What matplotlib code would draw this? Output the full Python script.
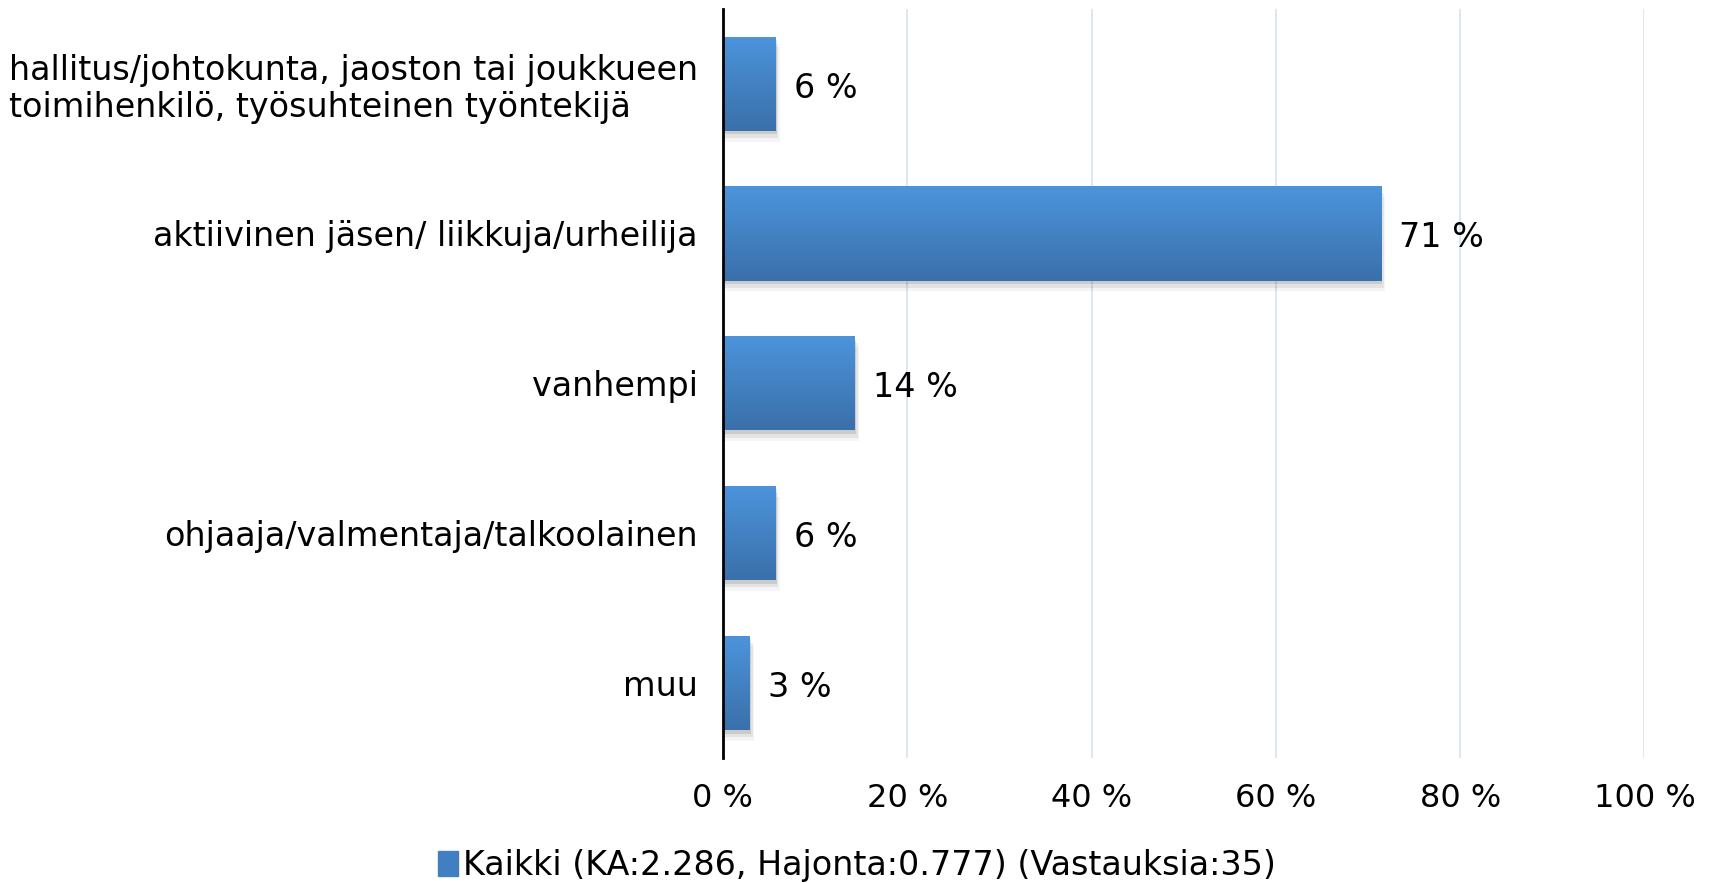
import numpy as np
import matplotlib
matplotlib.use("Agg")
import matplotlib.pyplot as plt
from matplotlib.colors import LinearSegmentedColormap
from matplotlib.patches import Rectangle

plt.rcParams['font.family'] = ['DejaVu Sans']

categories = [
    "hallitus/johtokunta, jaoston tai joukkueen\ntoimihenkilö, työsuhteinen työntekijä",
    "aktiivinen jäsen/ liikkuja/urheilija",
    "vanhempi",
    "ohjaaja/valmentaja/talkoolainen",
    "muu",
]
values = [5.7, 71.4, 14.3, 5.7, 2.9]
value_labels = ["6 %", "71 %", "14 %", "6 %", "3 %"]
xticks = [0, 20, 40, 60, 80, 100]
xtick_labels = ["0 %", "20 %", "40 %", "60 %", "80 %", "100 %"]
legend_text = "Kaikki (KA:2.286, Hajonta:0.777) (Vastauksia:35)"

fs = 24
fig = plt.figure(figsize=(17.13, 8.83), dpi=100)
ax = fig.add_axes([0.422, 0.142, 0.538, 0.848])

grad = LinearSegmentedColormap.from_list("bar", ["#4c94dc", "#3a70aa"])
y = np.arange(len(categories))
h = 0.63
bars = ax.barh(y, values, height=h, color="none", edgecolor="none", zorder=3)

for b in bars:
    x0, y0 = b.get_x(), b.get_y()
    w, hh = b.get_width(), b.get_height()
    # soft shadow
    for k, a in enumerate([0.10, 0.07, 0.04]):
        off = 0.004 + 0.004 * k
        ax.add_patch(Rectangle((x0, y0 + off * 6), w + off * 40, hh,
                               color="black", alpha=a, lw=0, zorder=2))
    img = np.linspace(0, 1, 100).reshape(-1, 1)
    im = ax.imshow(img, cmap=grad, aspect="auto",
                   extent=[x0, x0 + w, y0 + hh, y0], zorder=4,
                   interpolation="bilinear")
    clip = Rectangle((x0, y0), w, hh, transform=ax.transData)
    im.set_clip_path(clip)

for yi, v, lab in zip(y, values, value_labels):
    ax.text(v + 2.0, yi + 0.03, lab, va="center", ha="left", fontsize=fs, zorder=5)

ax.set_xlim(0, 100)
ax.set_ylim(len(categories) - 0.5, -0.5)
ax.set_yticks(y)
ax.set_yticklabels(categories, fontsize=fs, linespacing=1.15)
for t in ax.get_yticklabels():
    t.set_multialignment("left")
ax.set_xticks(xticks)
ax.set_xticklabels(xtick_labels, fontsize=23)
ax.tick_params(axis="both", length=0)
ax.tick_params(axis="x", pad=18)
ax.tick_params(axis="y", pad=18)

ax.grid(axis="x", color="#d5e3f1", lw=1.2, zorder=0)
ax.set_axisbelow(True)
for s in ["top", "right", "bottom"]:
    ax.spines[s].set_visible(False)
ax.spines["left"].set_linewidth(2)
ax.spines["left"].set_zorder(6)

handle = Rectangle((0, 0), 1, 1, color="#3f7fc2")
fig.legend([handle], [legend_text], loc="lower center",
           bbox_to_anchor=(0.5, -0.033), frameon=False, fontsize=fs,
           handlelength=0.6, handleheight=0.8, handletextpad=0.15)

fig.savefig("out.png", dpi=100)
